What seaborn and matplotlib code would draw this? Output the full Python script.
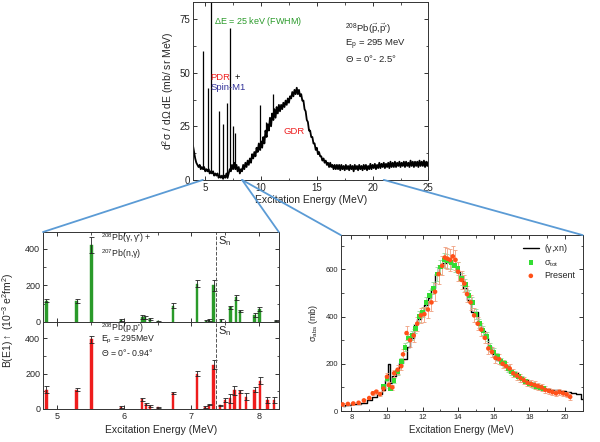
import numpy as np
import matplotlib
matplotlib.use("Agg")
import matplotlib.pyplot as plt
import seaborn as sns
from matplotlib.patches import ConnectionPatch
from matplotlib.ticker import MultipleLocator

sns.set_theme(style="ticks")
plt.rcParams['font.family'] = ['Liberation Sans', 'DejaVu Sans']
plt.rcParams['mathtext.fontset'] = 'custom'
plt.rcParams['mathtext.rm'] = 'Liberation Sans'
plt.rcParams['mathtext.it'] = 'Liberation Sans'
plt.rcParams['mathtext.bf'] = 'Liberation Sans:bold'

# ---- top: 208Pb(p,p') spectrum, 0.1 MeV bins from 3.9 to 25.0 MeV
spec_e = np.round(np.arange(3.9, 25.05, 0.1), 1)
spec_v = [16, 13, 10, 8, 7, 6, 7, 5, 6, 5,
          6, 4, 5, 4, 5, 3, 4, 3, 4, 2,
          3, 2, 3, 1, 2, 1, 2, 0.5, 2, 1,
          3, 1, 3, 5, 4, 7, 5, 8, 5, 7,
          4, 6, 3, 5, 4, 7, 5, 8, 6, 9,
          7, 10, 8, 12, 10, 13, 11, 15, 13, 17,
          14, 18, 15, 20, 17, 23, 20, 26, 23, 29,
          25, 31, 28, 33, 29, 34, 31, 35, 32, 35,
          33, 36, 34, 37, 35, 38, 36, 39, 38, 41,
          39, 42, 40, 43, 40, 42, 39, 40, 37, 37,
          33, 32, 28, 27, 23, 23, 20, 20, 17, 17,
          14, 15, 12, 13, 11, 11, 9, 10, 8, 9,
          7, 8, 6, 8, 6, 7, 5, 7, 5, 7,
          5, 7, 4.5, 7, 5, 6.5, 4.5, 7, 5, 6.5,
          4.5, 7, 5, 6.5, 4, 7, 5, 6.5, 4.5, 7,
          5, 6.5, 4.5, 7, 5, 7, 4.5, 6.5, 5, 7.5,
          5, 7, 5.5, 7.5, 5, 7, 5.5, 8, 5.5, 7.5,
          6, 8, 5.5, 7.5, 6, 8, 5.5, 8.5, 6, 8,
          6, 8.5, 6, 8, 6.5, 8.5, 6, 8, 6.5, 8.5,
          6, 8.5, 6.5, 8, 6, 9, 6.5, 8.5, 6, 8.5,
          6.5, 8.5, 6, 9, 6.5, 8.5, 6.5, 9, 6, 8.5,
          6.5, 8.5]
# sharp peaks on top of the spectrum
pk_e = [4.82, 5.25, 5.5, 6.25, 6.55, 6.95, 7.24, 7.45, 7.7, 9.9, 10.4, 11.1]
pk_lo = [5, 5, 4, 2, 2, 1, 5, 6, 5, 14, 22, 28]
pk_hi = [60, 43, 90, 32, 26, 36, 71, 25, 22, 35, 27, 40]

# ---- lower left: B(E1) strengths
gg_e = [4.84, 5.29, 5.51, 5.95, 6.27, 6.31, 6.38, 6.50, 6.72, 7.08,
        7.22, 7.26, 7.33, 7.44, 7.58, 7.66, 7.72, 7.94, 8.01, 8.26]
gg_b = [115, 115, 420, 10, 28, 25, 15, 3, 90, 210,
        5, 10, 200, 10, 80, 135, 60, 40, 70, 8]
gg_err = [8, 10, 45, 5, 10, 8, 6, 3, 12, 20,
          4, 6, 30, 8, 8, 15, 8, 10, 10, 5]

pp_e = [4.84, 5.29, 5.51, 5.95, 6.26, 6.32, 6.38, 6.50, 6.72, 7.08,
        7.20, 7.26, 7.33, 7.42, 7.50, 7.57, 7.64, 7.72, 7.81, 7.94,
        8.02, 8.13, 8.23]
pp_b = [110, 110, 395, 10, 55, 30, 18, 10, 90, 200,
        10, 25, 250, 20, 50, 60, 105, 100, 70, 110,
        160, 50, 50]
pp_err = [20, 10, 20, 5, 8, 6, 5, 4, 8, 15,
          5, 5, 25, 5, 12, 25, 25, 10, 20, 15,
          20, 15, 15]
s_n = 7.37

# ---- right: photoabsorption cross section
gxn_e = [7.5, 7.8, 8.1, 8.4, 8.7, 9.0, 9.3, 9.6, 9.8, 10.0,
         10.1, 10.2, 10.4, 10.6, 10.8, 11.0, 11.2, 11.4, 11.6, 11.8,
         12.0, 12.2, 12.4, 12.6, 12.8, 13.0, 13.2, 13.4, 13.6, 13.8,
         14.0, 14.2, 14.4, 14.6, 14.8, 15.0, 15.2, 15.4, 15.6, 15.8,
         16.0, 16.3, 16.6, 16.9, 17.2, 17.5, 17.8, 18.1, 18.4, 18.7,
         19.0, 19.3, 19.6, 19.9, 20.2, 20.5, 20.8, 21.0]
gxn_v = [22, 25, 28, 30, 35, 45, 60, 70, 90, 130,
         200, 120, 150, 180, 205, 220, 270, 310, 365, 390,
         420, 450, 480, 520, 580, 615, 625, 630, 625, 615,
         590, 560, 520, 470, 420, 420, 370, 340, 310, 270,
         240, 215, 195, 175, 160, 145, 130, 120, 110, 100,
         95, 90, 88, 85, 80, 75, 70, 50]

tot_e = [9.8, 10.0, 10.2, 10.4, 10.6, 10.8, 11.0, 11.2, 11.4, 11.6,
         11.8, 12.0, 12.2, 12.4, 12.6, 12.8, 13.0, 13.2, 13.4, 13.6,
         13.8, 14.0, 14.2, 14.4, 14.6, 14.8, 15.0, 15.2, 15.4, 15.6,
         15.8, 16.0, 16.2, 16.4, 16.6, 16.8, 17.0, 17.2, 17.4, 17.6,
         17.8, 18.0, 18.2, 18.4, 18.6, 18.8]
tot_v = [105, 135, 95, 130, 165, 210, 270, 310, 320, 350,
         400, 420, 460, 490, 520, 580, 610, 640, 635, 630,
         615, 605, 560, 535, 490, 460, 410, 370, 340, 315,
         270, 250, 230, 210, 200, 180, 165, 155, 145, 135,
         125, 115, 110, 105, 100, 95]
tot_err = [8, 10, 8, 10, 12, 14, 16, 18, 18, 20,
           22, 22, 24, 24, 26, 28, 28, 30, 30, 30,
           28, 28, 26, 26, 24, 24, 22, 20, 20, 18,
           16, 16, 15, 15, 14, 14, 13, 13, 12, 12,
           12, 11, 11, 11, 10, 10]

pres_e = [7.5, 7.8, 8.1, 8.4, 8.7, 9.0, 9.2, 9.4, 9.6, 9.8,
          10.0, 10.1, 10.3, 10.4, 10.6, 10.8, 10.9, 11.1, 11.3, 11.5,
          11.7, 11.9, 12.1, 12.3, 12.5, 12.7, 12.9, 13.1, 13.25, 13.4,
          13.55, 13.7, 13.85, 14.0, 14.2, 14.35, 14.5, 14.7, 14.9, 15.1,
          15.3, 15.5, 15.7, 15.9, 16.1, 16.3, 16.5, 16.7, 16.9, 17.1,
          17.3, 17.5, 17.7, 17.9, 18.1, 18.3, 18.5, 18.7, 18.9, 19.1,
          19.3, 19.5, 19.7, 19.9, 20.1, 20.3]
pres_v = [28, 30, 32, 35, 45, 55, 75, 82, 72, 95,
          145, 110, 100, 160, 175, 190, 240, 330, 300, 320,
          370, 405, 410, 430, 460, 505, 580, 615, 650, 645,
          640, 655, 640, 590, 555, 540, 495, 460, 405, 370,
          345, 310, 265, 250, 225, 220, 200, 190, 180, 160,
          150, 140, 130, 120, 115, 110, 105, 100, 90, 85,
          80, 75, 80, 75, 70, 60]
pres_err = [5, 5, 5, 5, 6, 6, 8, 8, 8, 10,
            15, 12, 12, 15, 18, 18, 22, 28, 28, 28,
            30, 32, 32, 35, 35, 38, 40, 40, 45, 45,
            45, 45, 42, 40, 38, 36, 34, 32, 30, 28,
            26, 24, 22, 22, 20, 20, 18, 18, 18, 17,
            17, 16, 16, 15, 15, 15, 15, 14, 14, 14,
            13, 13, 13, 12, 12, 12]

zoom_lo = (4.79, 8.3)
zoom_hi = (7.4, 21.0)

fig = plt.figure(figsize=(6, 4.42), dpi=100)
ax_t = fig.add_axes([0.322, 0.593, 0.392, 0.4025])
ax_g = fig.add_axes([0.0717, 0.2715, 0.393, 0.2036])
ax_p = fig.add_axes([0.0717, 0.0747, 0.393, 0.1968])
ax_r = fig.add_axes([0.568, 0.0701, 0.403, 0.398])


def style(ax, size):
    ax.tick_params(which="both", direction="in", top=True, right=True,
                   labelsize=size, pad=2, color="#333333")
    ax.tick_params(which="major", length=3, width=0.7)
    ax.tick_params(which="minor", length=1.8, width=0.6)
    for s in ax.spines.values():
        s.set_linewidth(0.7)
        s.set_color("#333333")


# top spectrum
sns.lineplot(x=spec_e, y=spec_v, ax=ax_t, color="black", lw=1.3)
ax_t.vlines(pk_e, pk_lo, pk_hi, color="black", lw=0.9)
ax_t.set_xlim(3.92, 25)
ax_t.set_ylim(0, 83)
ax_t.xaxis.set_major_locator(MultipleLocator(5))
ax_t.xaxis.set_minor_locator(MultipleLocator(2.5))
ax_t.yaxis.set_major_locator(MultipleLocator(25))
ax_t.yaxis.set_minor_locator(MultipleLocator(12.5))
style(ax_t, 7)
ax_t.set_xlabel("Excitation Energy (MeV)", fontsize=7.5, labelpad=2)
ax_t.set_ylabel(r"d$^2\sigma$ / d$\Omega$ dE (mb/ sr MeV)", fontsize=7.5, labelpad=3)
ax_t.text(5.8, 74, r"$\Delta$E = 25 keV (FWHM)", color="#2a9a2a", fontsize=6.5, va="center")
ax_t.text(17.5, 70, r"$^{208}$Pb($\vec{p}$,$\vec{p}$')", fontsize=6.8, va="center")
ax_t.text(17.5, 63, r"E$_p$ = 295 MeV", fontsize=6.8, va="center")
ax_t.text(17.5, 56.5, r"$\Theta$ = 0$\degree$- 2.5$\degree$", fontsize=6.8, va="center")
ax_t.text(5.45, 48, "PDR", color="#ee2020", fontsize=6.8, va="center")
ax_t.text(7.6, 48, "+", color="black", fontsize=6.8, va="center")
ax_t.text(5.45, 43, "Spin-M1", color="#333399", fontsize=6.8, va="center")
ax_t.text(12.0, 22.5, "GDR", color="#ee2020", fontsize=6.8, va="center")

# lower left bars
for ax, e, b, err, col in [(ax_g, gg_e, gg_b, gg_err, "#2a9a2a"),
                           (ax_p, pp_e, pp_b, pp_err, "#ee1c1c")]:
    ax.bar(e, b, width=0.035, color=col, edgecolor=col, lw=0.3)
    ax.errorbar(e, b, yerr=err, fmt="none", ecolor="#222222", elinewidth=0.6,
                capsize=1.8, capthick=0.6)
    ax.axvline(s_n, color="#555555", ls="--", lw=0.7)
    ax.set_xlim(*zoom_lo)
    ax.set_ylim(0, 492)
    ax.xaxis.set_major_locator(MultipleLocator(1))
    ax.xaxis.set_minor_locator(MultipleLocator(0.5))
    ax.yaxis.set_major_locator(MultipleLocator(200))
    ax.yaxis.set_minor_locator(MultipleLocator(100))
    style(ax, 6.5)
    ax.text(s_n + 0.02, 440, r"S$_n$", fontsize=8, va="center")

ax_g.tick_params(labelbottom=False)
ax_g.text(5.65, 458, r"$^{208}$Pb($\gamma,\gamma$') +", fontsize=6.3, va="center")
ax_g.text(5.65, 372, r"$^{207}$Pb(n,$\gamma$)", fontsize=6.3, va="center")
ax_p.text(5.65, 460, r"$^{208}$Pb(p,p')", fontsize=6.3, va="center")
ax_p.text(5.65, 390, r"E$_p$ = 295MeV", fontsize=6.3, va="center")
ax_p.text(5.65, 322, r"$\Theta$ = 0$\degree$- 0.94$\degree$", fontsize=6.3, va="center")
ax_p.set_xlabel("Excitation Energy (MeV)", fontsize=7.5, labelpad=3)
fig.text(0.014, 0.275, r"B(E1)$\uparrow$ (10$^{-3}$ e$^2$fm$^2$)", rotation=90,
         fontsize=7.5, ha="center", va="center")

# right: cross sections
ax_r.step(gxn_e, gxn_v, where="mid", color="black", lw=1.0, label=r"($\gamma$,xn)")
ax_r.errorbar(tot_e, tot_v, yerr=tot_err, fmt="none", ecolor="#9ad89a",
              elinewidth=0.6, capsize=1.5, capthick=0.6)
ax_r.errorbar(pres_e, pres_v, yerr=pres_err, fmt="none", ecolor="#f0a080",
              elinewidth=0.6, capsize=1.5, capthick=0.6)
sns.scatterplot(x=tot_e, y=tot_v, ax=ax_r, marker="s", s=11, color="#33dd33",
                edgecolor="none", label=r"$\sigma_{tot}$", zorder=3)
sns.scatterplot(x=pres_e, y=pres_v, ax=ax_r, marker="o", s=11, color="#ff5018",
                edgecolor="none", label="Present", zorder=4)
ax_r.set_xlim(*zoom_hi)
ax_r.set_ylim(0, 745)
ax_r.xaxis.set_major_locator(MultipleLocator(2))
ax_r.xaxis.set_minor_locator(MultipleLocator(1))
ax_r.yaxis.set_major_locator(MultipleLocator(200))
ax_r.yaxis.set_minor_locator(MultipleLocator(100))
style(ax_r, 5.5)
ax_r.set_xlabel("Excitation Energy (MeV)", fontsize=7, labelpad=3)
ax_r.set_ylabel(r"$\sigma_{abs}$ (mb)", fontsize=6.5, labelpad=4)
ax_r.legend(loc="upper right", frameon=False, fontsize=6.5, handlelength=1.8,
            handletextpad=0.6, labelspacing=0.3, borderaxespad=0.4)

# blue zoom lines
blue = "#5b9bd5"
for xa, axb, fb in [(zoom_lo[0], ax_g, (0, 1)), (zoom_lo[1], ax_g, (1, 1)),
                    (zoom_lo[1], ax_r, (0, 1)), (zoom_hi[1], ax_r, (1, 1))]:
    con = ConnectionPatch(xyA=(xa, 0), coordsA=ax_t.transData,
                          xyB=fb, coordsB=axb.transAxes,
                          color=blue, lw=1.3)
    fig.add_artist(con)

fig.savefig("out.png", dpi=100)
